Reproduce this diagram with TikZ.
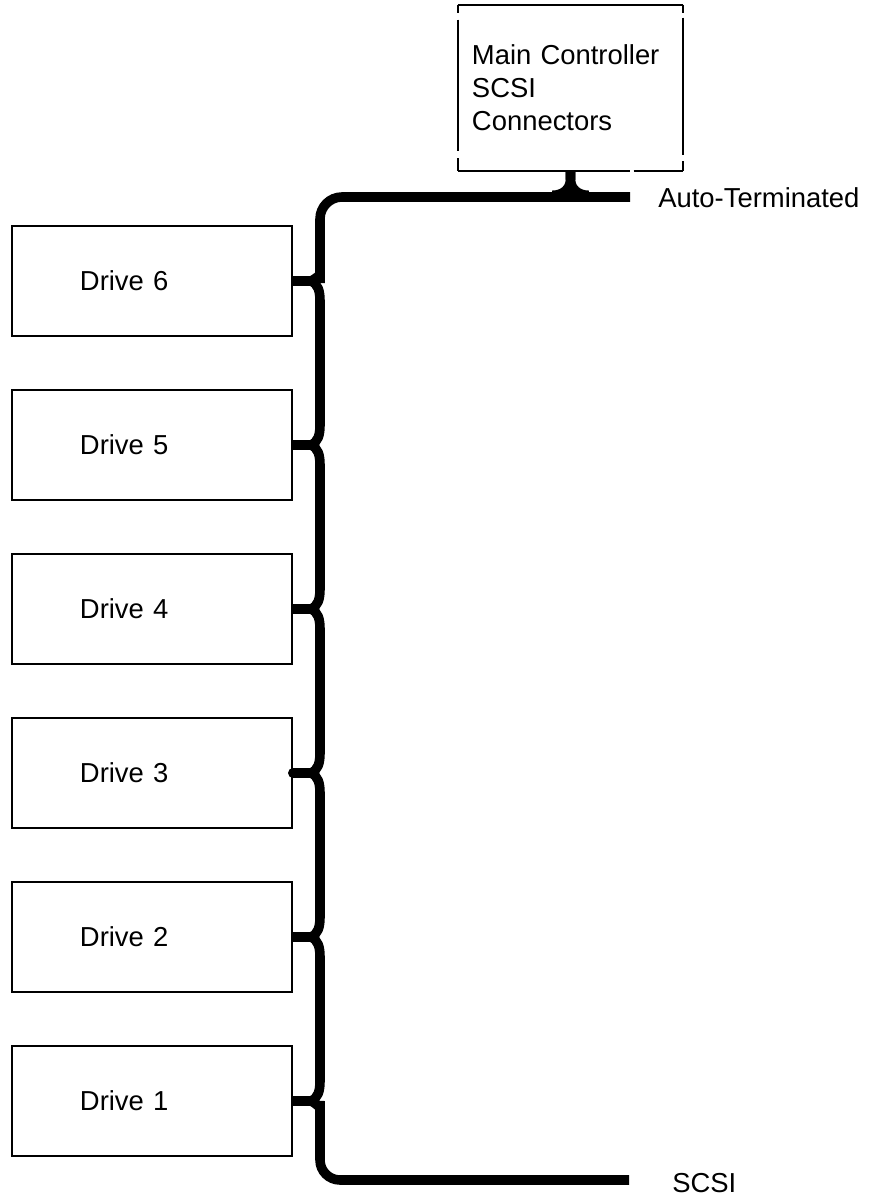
\documentclass[tikz,border=0pt]{standalone}
\usepackage{fontspec}
\setmainfont{Liberation Sans}
\usetikzlibrary{calc}

\begin{document}
\begin{tikzpicture}[x=0.025cm,y=-0.025cm,font=\fontsize{19.5}{23.4}\selectfont,
  drivebox/.style={draw,line width=1.1pt,minimum width=7cm,minimum height=2.75cm,
    inner xsep=1.7cm,text width=3.6cm,align=left},
  edge/.style={line width=1.2pt},
  bus/.style={line width=6.8pt},
  lbl/.style={inner sep=0pt,anchor=west}]
\useasboundingbox (0,0) rectangle (876,1200);
\node[inner xsep=0.35cm,text width=4.925cm,minimum height=4.15cm,align=left] (ctrl) at (570.5,88) {Main Controller\\SCSI\\Connectors};
\draw[edge] (ctrl.north west) -- (ctrl.north east);
\draw[edge] (ctrl.north west) -- ++(0,8) ($(ctrl.north west)+(0,15)$) -- ($(ctrl.south west)+(0,-20)$) ($(ctrl.south west)+(0,-13)$) -- (ctrl.south west);
\draw[edge] (ctrl.north east) -- ++(0,8) ($(ctrl.north east)+(0,13)$) -- ($(ctrl.south east)+(0,-16)$) ($(ctrl.south east)+(0,-10)$) -- (ctrl.south east);
\draw[edge] (ctrl.south west) -- ++(172,0) ($(ctrl.south west)+(176,0)$) -- (ctrl.south east);
\foreach \i in {1,...,6}{
  \node[drivebox] (d\i) at (152,{1101-164*(\i-1)}) {Drive \i};
  \coordinate (t\i) at (311,{1101-164*(\i-1)});
  \draw[bus] (d\i.east) -- (t\i);
}
\draw[bus,line cap=round] (d3.east) -- (t3);
\foreach \i [evaluate=\i as \j using int(\i+1)] in {1,...,5}
  \draw[bus,line cap=round] (t\i) .. controls +(7,-3) and +(0,10) .. ($(t\i)+(9,-20)$) -- ($(t\j)+(9,20)$) .. controls +(0,-10) and +(7,3) .. (t\j);
\coordinate (autoend) at (630,197);
\coordinate (scsiend) at (629,1180);
\draw[bus,rounded corners=0.55cm] (t6) .. controls +(7,-3) and +(0,10) .. ($(t6)+(9,-20)$) |- (autoend);
\draw[bus,rounded corners=0.5cm] (t1) .. controls +(7,3) and +(0,-10) .. ($(t1)+(9,20)$) |- (scsiend);
\draw[bus] (ctrl.south) -- ++(0,8) .. controls +(0,10) and +(10,0) .. ($(ctrl.south)+(-18,24)$);
\draw[bus] (ctrl.south) -- ++(0,8) .. controls +(0,10) and +(-10,0) .. ($(ctrl.south)+(18,24)$);
\node[lbl] (autolbl) at (658,198) {Auto-Terminated};
\node[lbl] (scsilbl) at (672,1183) {SCSI};
\end{tikzpicture}
\end{document}
